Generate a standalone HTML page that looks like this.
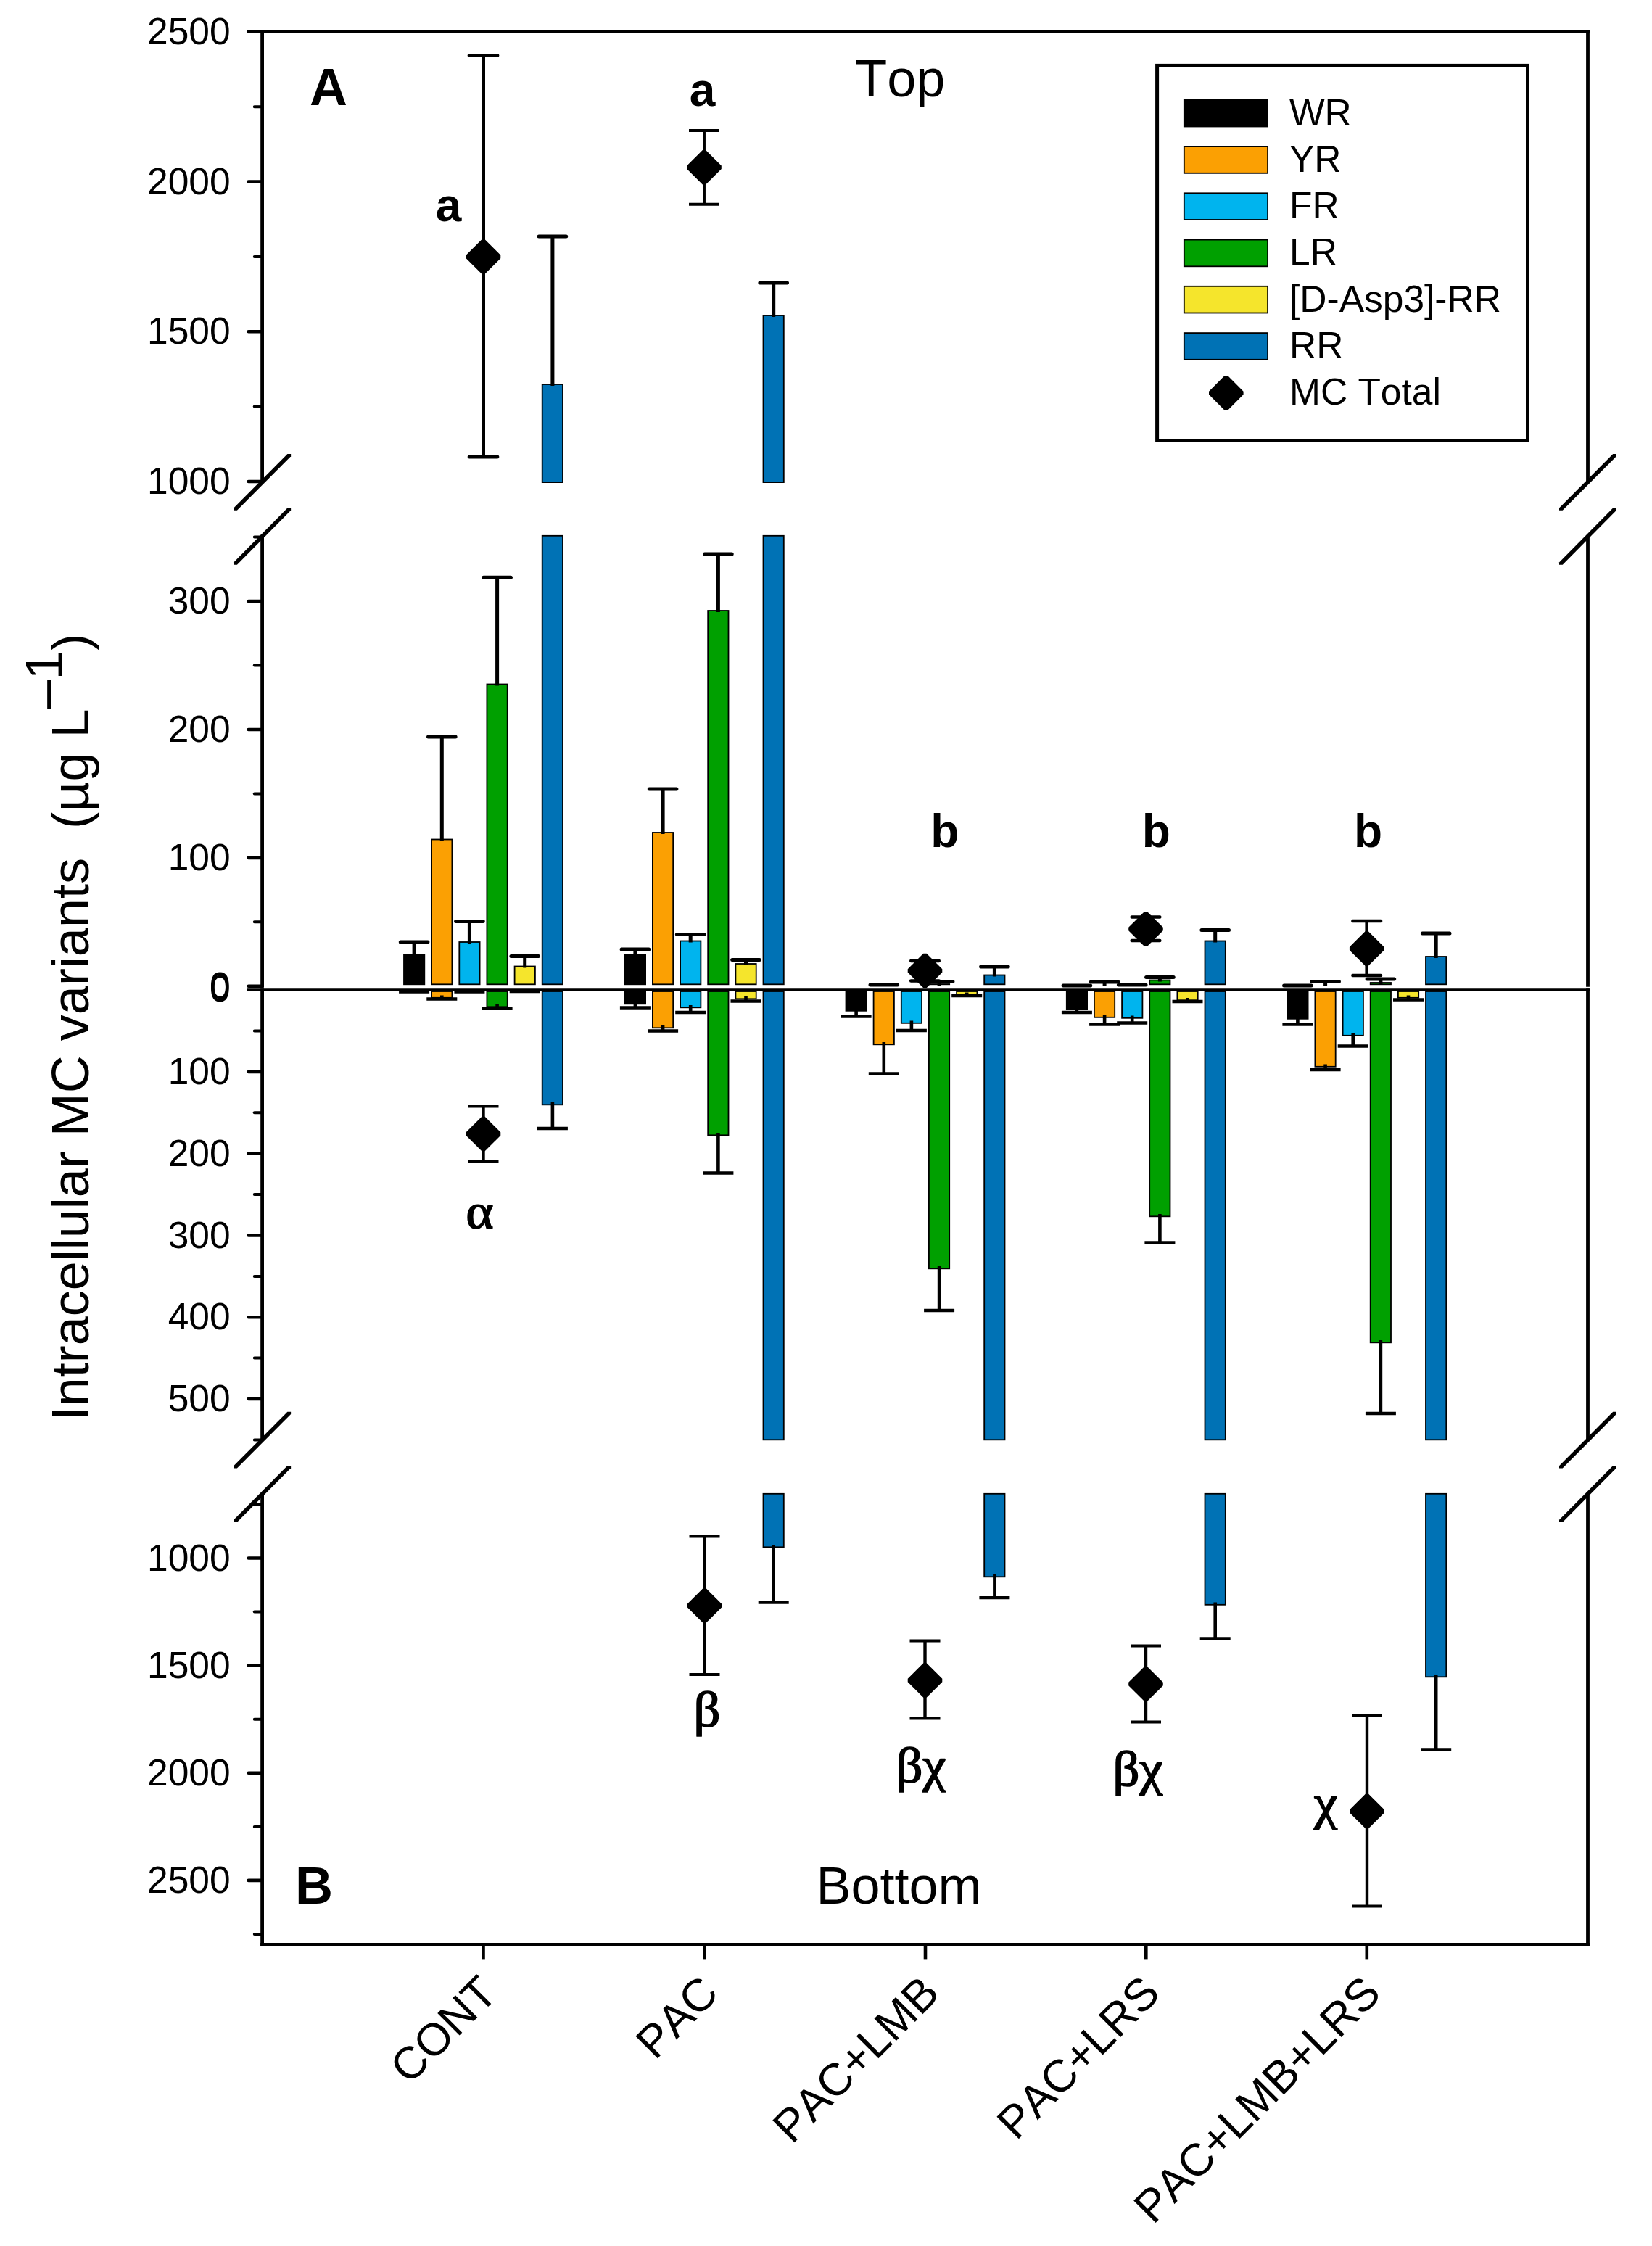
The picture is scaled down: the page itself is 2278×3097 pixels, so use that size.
<!DOCTYPE html>
<html lang="en"><head><meta charset="utf-8"><title>Intracellular MC variants</title>
<style>html,body{margin:0;padding:0;background:#fff}svg{display:block}text{font-kerning:none;font-variant-ligatures:none}</style></head><body>
<svg width="2278" height="3097" viewBox="0 0 2278 3097">
<rect x="0" y="0" width="2278" height="3097" fill="#fff"/>
<g id="bars">
<rect x="557.0" y="1316.5" width="28.3" height="40.8" fill="#000000" stroke="#000" stroke-width="1.8"/>
<line x1="571.1" y1="1318.5" x2="571.1" y2="1299.0" stroke="#000" stroke-width="5.0" stroke-linecap="butt"/>
<line x1="552.3" y1="1299.0" x2="589.9" y2="1299.0" stroke="#000" stroke-width="5.0" stroke-linecap="round"/>
<line x1="571.1" y1="1367.0" x2="571.1" y2="1367.6" stroke="#000" stroke-width="4.6" stroke-linecap="butt"/>
<line x1="550.1" y1="1367.6" x2="592.1" y2="1367.6" stroke="#000" stroke-width="4.3" stroke-linecap="butt"/>
<rect x="595.1" y="1157.5" width="28.3" height="199.8" fill="#FBA003" stroke="#000" stroke-width="1.8"/>
<line x1="609.3" y1="1159.5" x2="609.3" y2="1016.0" stroke="#000" stroke-width="5.0" stroke-linecap="butt"/>
<line x1="590.5" y1="1016.0" x2="628.1" y2="1016.0" stroke="#000" stroke-width="5.0" stroke-linecap="round"/>
<rect x="595.1" y="1367.0" width="28.3" height="8.8" fill="#FBA003" stroke="#000" stroke-width="1.8"/>
<line x1="609.3" y1="1372.5" x2="609.3" y2="1377.5" stroke="#000" stroke-width="4.6" stroke-linecap="butt"/>
<line x1="588.3" y1="1377.5" x2="630.3" y2="1377.5" stroke="#000" stroke-width="4.3" stroke-linecap="butt"/>
<rect x="633.3" y="1299.0" width="28.3" height="58.3" fill="#00B4EE" stroke="#000" stroke-width="1.8"/>
<line x1="647.4" y1="1301.0" x2="647.4" y2="1270.4" stroke="#000" stroke-width="5.0" stroke-linecap="butt"/>
<line x1="628.6" y1="1270.4" x2="666.2" y2="1270.4" stroke="#000" stroke-width="5.0" stroke-linecap="round"/>
<line x1="647.4" y1="1367.0" x2="647.4" y2="1367.6" stroke="#000" stroke-width="4.6" stroke-linecap="butt"/>
<line x1="626.4" y1="1367.6" x2="668.4" y2="1367.6" stroke="#000" stroke-width="4.3" stroke-linecap="butt"/>
<rect x="671.4" y="943.5" width="28.3" height="413.8" fill="#00A000" stroke="#000" stroke-width="1.8"/>
<line x1="685.6" y1="945.5" x2="685.6" y2="796.3" stroke="#000" stroke-width="5.0" stroke-linecap="butt"/>
<line x1="666.8" y1="796.3" x2="704.4" y2="796.3" stroke="#000" stroke-width="5.0" stroke-linecap="round"/>
<rect x="671.4" y="1367.0" width="28.3" height="21.3" fill="#00A000" stroke="#000" stroke-width="1.8"/>
<line x1="685.6" y1="1385.0" x2="685.6" y2="1390.5" stroke="#000" stroke-width="4.6" stroke-linecap="butt"/>
<line x1="664.6" y1="1390.5" x2="706.6" y2="1390.5" stroke="#000" stroke-width="4.3" stroke-linecap="butt"/>
<rect x="709.6" y="1332.5" width="28.3" height="24.8" fill="#F5E52C" stroke="#000" stroke-width="1.8"/>
<line x1="723.7" y1="1334.5" x2="723.7" y2="1318.5" stroke="#000" stroke-width="5.0" stroke-linecap="butt"/>
<line x1="704.9" y1="1318.5" x2="742.5" y2="1318.5" stroke="#000" stroke-width="5.0" stroke-linecap="round"/>
<line x1="723.7" y1="1367.0" x2="723.7" y2="1367.2" stroke="#000" stroke-width="4.6" stroke-linecap="butt"/>
<line x1="702.7" y1="1367.2" x2="744.7" y2="1367.2" stroke="#000" stroke-width="4.3" stroke-linecap="butt"/>
<rect x="747.7" y="738.8" width="28.3" height="618.5" fill="#0072B5" stroke="#000" stroke-width="1.8"/>
<rect x="747.7" y="530.0" width="28.3" height="135.1" fill="#0072B5" stroke="#000" stroke-width="1.8"/>
<line x1="761.9" y1="532.0" x2="761.9" y2="326.0" stroke="#000" stroke-width="5.0" stroke-linecap="butt"/>
<line x1="743.1" y1="326.0" x2="780.7" y2="326.0" stroke="#000" stroke-width="5.0" stroke-linecap="round"/>
<rect x="747.7" y="1367.0" width="28.3" height="156.3" fill="#0072B5" stroke="#000" stroke-width="1.8"/>
<line x1="761.9" y1="1520.0" x2="761.9" y2="1556.0" stroke="#000" stroke-width="4.6" stroke-linecap="butt"/>
<line x1="740.9" y1="1556.0" x2="782.9" y2="1556.0" stroke="#000" stroke-width="4.3" stroke-linecap="butt"/>
<rect x="861.8" y="1316.5" width="28.3" height="40.8" fill="#000000" stroke="#000" stroke-width="1.8"/>
<line x1="875.9" y1="1318.5" x2="875.9" y2="1309.0" stroke="#000" stroke-width="5.0" stroke-linecap="butt"/>
<line x1="857.1" y1="1309.0" x2="894.7" y2="1309.0" stroke="#000" stroke-width="5.0" stroke-linecap="round"/>
<rect x="861.8" y="1367.0" width="28.3" height="17.3" fill="#000000" stroke="#000" stroke-width="1.8"/>
<line x1="875.9" y1="1381.0" x2="875.9" y2="1389.5" stroke="#000" stroke-width="4.6" stroke-linecap="butt"/>
<line x1="854.9" y1="1389.5" x2="896.9" y2="1389.5" stroke="#000" stroke-width="4.3" stroke-linecap="butt"/>
<rect x="899.9" y="1148.0" width="28.3" height="209.3" fill="#FBA003" stroke="#000" stroke-width="1.8"/>
<line x1="914.1" y1="1150.0" x2="914.1" y2="1088.0" stroke="#000" stroke-width="5.0" stroke-linecap="butt"/>
<line x1="895.3" y1="1088.0" x2="932.9" y2="1088.0" stroke="#000" stroke-width="5.0" stroke-linecap="round"/>
<rect x="899.9" y="1367.0" width="28.3" height="50.3" fill="#FBA003" stroke="#000" stroke-width="1.8"/>
<line x1="914.1" y1="1414.0" x2="914.1" y2="1421.5" stroke="#000" stroke-width="4.6" stroke-linecap="butt"/>
<line x1="893.1" y1="1421.5" x2="935.1" y2="1421.5" stroke="#000" stroke-width="4.3" stroke-linecap="butt"/>
<rect x="938.1" y="1297.5" width="28.3" height="59.8" fill="#00B4EE" stroke="#000" stroke-width="1.8"/>
<line x1="952.2" y1="1299.5" x2="952.2" y2="1288.5" stroke="#000" stroke-width="5.0" stroke-linecap="butt"/>
<line x1="933.4" y1="1288.5" x2="971.0" y2="1288.5" stroke="#000" stroke-width="5.0" stroke-linecap="round"/>
<rect x="938.1" y="1367.0" width="28.3" height="22.3" fill="#00B4EE" stroke="#000" stroke-width="1.8"/>
<line x1="952.2" y1="1386.0" x2="952.2" y2="1396.0" stroke="#000" stroke-width="4.6" stroke-linecap="butt"/>
<line x1="931.2" y1="1396.0" x2="973.2" y2="1396.0" stroke="#000" stroke-width="4.3" stroke-linecap="butt"/>
<rect x="976.2" y="842.0" width="28.3" height="515.3" fill="#00A000" stroke="#000" stroke-width="1.8"/>
<line x1="990.4" y1="844.0" x2="990.4" y2="764.0" stroke="#000" stroke-width="5.0" stroke-linecap="butt"/>
<line x1="971.6" y1="764.0" x2="1009.2" y2="764.0" stroke="#000" stroke-width="5.0" stroke-linecap="round"/>
<rect x="976.2" y="1367.0" width="28.3" height="198.3" fill="#00A000" stroke="#000" stroke-width="1.8"/>
<line x1="990.4" y1="1562.0" x2="990.4" y2="1617.5" stroke="#000" stroke-width="4.6" stroke-linecap="butt"/>
<line x1="969.4" y1="1617.5" x2="1011.4" y2="1617.5" stroke="#000" stroke-width="4.3" stroke-linecap="butt"/>
<rect x="1014.4" y="1329.0" width="28.3" height="28.3" fill="#F5E52C" stroke="#000" stroke-width="1.8"/>
<line x1="1028.5" y1="1331.0" x2="1028.5" y2="1323.5" stroke="#000" stroke-width="5.0" stroke-linecap="butt"/>
<line x1="1009.7" y1="1323.5" x2="1047.3" y2="1323.5" stroke="#000" stroke-width="5.0" stroke-linecap="round"/>
<rect x="1014.4" y="1367.0" width="28.3" height="10.3" fill="#F5E52C" stroke="#000" stroke-width="1.8"/>
<line x1="1028.5" y1="1374.0" x2="1028.5" y2="1380.5" stroke="#000" stroke-width="4.6" stroke-linecap="butt"/>
<line x1="1007.5" y1="1380.5" x2="1049.5" y2="1380.5" stroke="#000" stroke-width="4.3" stroke-linecap="butt"/>
<rect x="1052.5" y="738.8" width="28.3" height="618.5" fill="#0072B5" stroke="#000" stroke-width="1.8"/>
<rect x="1052.5" y="435.0" width="28.3" height="230.1" fill="#0072B5" stroke="#000" stroke-width="1.8"/>
<line x1="1066.7" y1="437.0" x2="1066.7" y2="390.0" stroke="#000" stroke-width="5.0" stroke-linecap="butt"/>
<line x1="1047.9" y1="390.0" x2="1085.5" y2="390.0" stroke="#000" stroke-width="5.0" stroke-linecap="round"/>
<rect x="1052.5" y="1367.0" width="28.3" height="618.3" fill="#0072B5" stroke="#000" stroke-width="1.8"/>
<rect x="1052.5" y="2059.8" width="28.3" height="73.5" fill="#0072B5" stroke="#000" stroke-width="1.8"/>
<line x1="1066.7" y1="2130.0" x2="1066.7" y2="2209.6" stroke="#000" stroke-width="4.6" stroke-linecap="butt"/>
<line x1="1045.7" y1="2209.6" x2="1087.7" y2="2209.6" stroke="#000" stroke-width="4.3" stroke-linecap="butt"/>
<rect x="1166.5" y="1367.0" width="28.3" height="26.8" fill="#000000" stroke="#000" stroke-width="1.8"/>
<line x1="1180.6" y1="1390.5" x2="1180.6" y2="1401.5" stroke="#000" stroke-width="4.6" stroke-linecap="butt"/>
<line x1="1159.6" y1="1401.5" x2="1201.6" y2="1401.5" stroke="#000" stroke-width="4.3" stroke-linecap="butt"/>
<line x1="1218.8" y1="1357.3" x2="1218.8" y2="1358.0" stroke="#000" stroke-width="5.0" stroke-linecap="butt"/>
<line x1="1200.0" y1="1358.0" x2="1237.6" y2="1358.0" stroke="#000" stroke-width="5.0" stroke-linecap="round"/>
<rect x="1204.6" y="1367.0" width="28.3" height="73.3" fill="#FBA003" stroke="#000" stroke-width="1.8"/>
<line x1="1218.8" y1="1437.0" x2="1218.8" y2="1480.5" stroke="#000" stroke-width="4.6" stroke-linecap="butt"/>
<line x1="1197.8" y1="1480.5" x2="1239.8" y2="1480.5" stroke="#000" stroke-width="4.3" stroke-linecap="butt"/>
<rect x="1242.8" y="1367.0" width="28.3" height="43.8" fill="#00B4EE" stroke="#000" stroke-width="1.8"/>
<line x1="1256.9" y1="1407.5" x2="1256.9" y2="1421.0" stroke="#000" stroke-width="4.6" stroke-linecap="butt"/>
<line x1="1235.9" y1="1421.0" x2="1277.9" y2="1421.0" stroke="#000" stroke-width="4.3" stroke-linecap="butt"/>
<rect x="1280.9" y="1357.0" width="28.3" height="0.3" fill="#00A000" stroke="#000" stroke-width="1.8"/>
<line x1="1295.1" y1="1359.0" x2="1295.1" y2="1353.5" stroke="#000" stroke-width="5.0" stroke-linecap="butt"/>
<line x1="1276.3" y1="1353.5" x2="1313.9" y2="1353.5" stroke="#000" stroke-width="5.0" stroke-linecap="round"/>
<rect x="1280.9" y="1367.0" width="28.3" height="382.3" fill="#00A000" stroke="#000" stroke-width="1.8"/>
<line x1="1295.1" y1="1746.0" x2="1295.1" y2="1807.0" stroke="#000" stroke-width="4.6" stroke-linecap="butt"/>
<line x1="1274.1" y1="1807.0" x2="1316.1" y2="1807.0" stroke="#000" stroke-width="4.3" stroke-linecap="butt"/>
<rect x="1319.1" y="1367.0" width="28.3" height="4.8" fill="#F5E52C" stroke="#000" stroke-width="1.8"/>
<line x1="1333.2" y1="1368.5" x2="1333.2" y2="1373.0" stroke="#000" stroke-width="4.6" stroke-linecap="butt"/>
<line x1="1312.2" y1="1373.0" x2="1354.2" y2="1373.0" stroke="#000" stroke-width="4.3" stroke-linecap="butt"/>
<rect x="1357.2" y="1344.5" width="28.3" height="12.8" fill="#0072B5" stroke="#000" stroke-width="1.8"/>
<line x1="1371.4" y1="1346.5" x2="1371.4" y2="1333.0" stroke="#000" stroke-width="5.0" stroke-linecap="butt"/>
<line x1="1352.6" y1="1333.0" x2="1390.2" y2="1333.0" stroke="#000" stroke-width="5.0" stroke-linecap="round"/>
<rect x="1357.2" y="1367.0" width="28.3" height="618.3" fill="#0072B5" stroke="#000" stroke-width="1.8"/>
<rect x="1357.2" y="2059.8" width="28.3" height="114.5" fill="#0072B5" stroke="#000" stroke-width="1.8"/>
<line x1="1371.4" y1="2171.0" x2="1371.4" y2="2203.1" stroke="#000" stroke-width="4.6" stroke-linecap="butt"/>
<line x1="1350.4" y1="2203.1" x2="1392.4" y2="2203.1" stroke="#000" stroke-width="4.3" stroke-linecap="butt"/>
<line x1="1484.9" y1="1357.3" x2="1484.9" y2="1359.0" stroke="#000" stroke-width="5.0" stroke-linecap="butt"/>
<line x1="1466.1" y1="1359.0" x2="1503.7" y2="1359.0" stroke="#000" stroke-width="5.0" stroke-linecap="round"/>
<rect x="1470.8" y="1367.0" width="28.3" height="24.8" fill="#000000" stroke="#000" stroke-width="1.8"/>
<line x1="1484.9" y1="1388.5" x2="1484.9" y2="1396.0" stroke="#000" stroke-width="4.6" stroke-linecap="butt"/>
<line x1="1463.9" y1="1396.0" x2="1505.9" y2="1396.0" stroke="#000" stroke-width="4.3" stroke-linecap="butt"/>
<rect x="1508.9" y="1357.5" width="28.3" height="-0.2" fill="#FBA003" stroke="#000" stroke-width="1.8"/>
<line x1="1523.1" y1="1359.5" x2="1523.1" y2="1354.0" stroke="#000" stroke-width="5.0" stroke-linecap="butt"/>
<line x1="1504.3" y1="1354.0" x2="1541.9" y2="1354.0" stroke="#000" stroke-width="5.0" stroke-linecap="round"/>
<rect x="1508.9" y="1367.0" width="28.3" height="35.8" fill="#FBA003" stroke="#000" stroke-width="1.8"/>
<line x1="1523.1" y1="1399.5" x2="1523.1" y2="1412.5" stroke="#000" stroke-width="4.6" stroke-linecap="butt"/>
<line x1="1502.1" y1="1412.5" x2="1544.1" y2="1412.5" stroke="#000" stroke-width="4.3" stroke-linecap="butt"/>
<line x1="1561.2" y1="1357.3" x2="1561.2" y2="1358.0" stroke="#000" stroke-width="5.0" stroke-linecap="butt"/>
<line x1="1542.4" y1="1358.0" x2="1580.0" y2="1358.0" stroke="#000" stroke-width="5.0" stroke-linecap="round"/>
<rect x="1547.1" y="1367.0" width="28.3" height="36.8" fill="#00B4EE" stroke="#000" stroke-width="1.8"/>
<line x1="1561.2" y1="1400.5" x2="1561.2" y2="1410.5" stroke="#000" stroke-width="4.6" stroke-linecap="butt"/>
<line x1="1540.2" y1="1410.5" x2="1582.2" y2="1410.5" stroke="#000" stroke-width="4.3" stroke-linecap="butt"/>
<rect x="1585.2" y="1351.5" width="28.3" height="5.8" fill="#00A000" stroke="#000" stroke-width="1.8"/>
<line x1="1599.4" y1="1353.5" x2="1599.4" y2="1347.5" stroke="#000" stroke-width="5.0" stroke-linecap="butt"/>
<line x1="1580.6" y1="1347.5" x2="1618.2" y2="1347.5" stroke="#000" stroke-width="5.0" stroke-linecap="round"/>
<rect x="1585.2" y="1367.0" width="28.3" height="310.3" fill="#00A000" stroke="#000" stroke-width="1.8"/>
<line x1="1599.4" y1="1674.0" x2="1599.4" y2="1713.5" stroke="#000" stroke-width="4.6" stroke-linecap="butt"/>
<line x1="1578.4" y1="1713.5" x2="1620.4" y2="1713.5" stroke="#000" stroke-width="4.3" stroke-linecap="butt"/>
<rect x="1623.4" y="1367.0" width="28.3" height="12.3" fill="#F5E52C" stroke="#000" stroke-width="1.8"/>
<line x1="1637.5" y1="1376.0" x2="1637.5" y2="1381.0" stroke="#000" stroke-width="4.6" stroke-linecap="butt"/>
<line x1="1616.5" y1="1381.0" x2="1658.5" y2="1381.0" stroke="#000" stroke-width="4.3" stroke-linecap="butt"/>
<rect x="1661.5" y="1297.5" width="28.3" height="59.8" fill="#0072B5" stroke="#000" stroke-width="1.8"/>
<line x1="1675.7" y1="1299.5" x2="1675.7" y2="1282.5" stroke="#000" stroke-width="5.0" stroke-linecap="butt"/>
<line x1="1656.9" y1="1282.5" x2="1694.5" y2="1282.5" stroke="#000" stroke-width="5.0" stroke-linecap="round"/>
<rect x="1661.5" y="1367.0" width="28.3" height="618.3" fill="#0072B5" stroke="#000" stroke-width="1.8"/>
<rect x="1661.5" y="2059.8" width="28.3" height="153.0" fill="#0072B5" stroke="#000" stroke-width="1.8"/>
<line x1="1675.7" y1="2209.5" x2="1675.7" y2="2259.5" stroke="#000" stroke-width="4.6" stroke-linecap="butt"/>
<line x1="1654.7" y1="2259.5" x2="1696.7" y2="2259.5" stroke="#000" stroke-width="4.3" stroke-linecap="butt"/>
<line x1="1789.4" y1="1357.3" x2="1789.4" y2="1359.0" stroke="#000" stroke-width="5.0" stroke-linecap="butt"/>
<line x1="1770.6" y1="1359.0" x2="1808.2" y2="1359.0" stroke="#000" stroke-width="5.0" stroke-linecap="round"/>
<rect x="1775.3" y="1367.0" width="28.3" height="37.8" fill="#000000" stroke="#000" stroke-width="1.8"/>
<line x1="1789.4" y1="1401.5" x2="1789.4" y2="1412.5" stroke="#000" stroke-width="4.6" stroke-linecap="butt"/>
<line x1="1768.4" y1="1412.5" x2="1810.4" y2="1412.5" stroke="#000" stroke-width="4.3" stroke-linecap="butt"/>
<rect x="1813.4" y="1357.5" width="28.3" height="-0.2" fill="#FBA003" stroke="#000" stroke-width="1.8"/>
<line x1="1827.6" y1="1359.5" x2="1827.6" y2="1353.5" stroke="#000" stroke-width="5.0" stroke-linecap="butt"/>
<line x1="1808.8" y1="1353.5" x2="1846.4" y2="1353.5" stroke="#000" stroke-width="5.0" stroke-linecap="round"/>
<rect x="1813.4" y="1367.0" width="28.3" height="103.8" fill="#FBA003" stroke="#000" stroke-width="1.8"/>
<line x1="1827.6" y1="1467.5" x2="1827.6" y2="1475.0" stroke="#000" stroke-width="4.6" stroke-linecap="butt"/>
<line x1="1806.6" y1="1475.0" x2="1848.6" y2="1475.0" stroke="#000" stroke-width="4.3" stroke-linecap="butt"/>
<rect x="1851.6" y="1367.0" width="28.3" height="60.8" fill="#00B4EE" stroke="#000" stroke-width="1.8"/>
<line x1="1865.7" y1="1424.5" x2="1865.7" y2="1442.5" stroke="#000" stroke-width="4.6" stroke-linecap="butt"/>
<line x1="1844.7" y1="1442.5" x2="1886.7" y2="1442.5" stroke="#000" stroke-width="4.3" stroke-linecap="butt"/>
<rect x="1889.7" y="1355.0" width="28.3" height="2.3" fill="#00A000" stroke="#000" stroke-width="1.8"/>
<line x1="1903.9" y1="1357.0" x2="1903.9" y2="1350.0" stroke="#000" stroke-width="5.0" stroke-linecap="butt"/>
<line x1="1885.1" y1="1350.0" x2="1922.7" y2="1350.0" stroke="#000" stroke-width="5.0" stroke-linecap="round"/>
<rect x="1889.7" y="1367.0" width="28.3" height="484.3" fill="#00A000" stroke="#000" stroke-width="1.8"/>
<line x1="1903.9" y1="1848.0" x2="1903.9" y2="1949.0" stroke="#000" stroke-width="4.6" stroke-linecap="butt"/>
<line x1="1882.9" y1="1949.0" x2="1924.9" y2="1949.0" stroke="#000" stroke-width="4.3" stroke-linecap="butt"/>
<rect x="1927.9" y="1367.0" width="28.3" height="8.8" fill="#F5E52C" stroke="#000" stroke-width="1.8"/>
<line x1="1942.0" y1="1372.5" x2="1942.0" y2="1378.5" stroke="#000" stroke-width="4.6" stroke-linecap="butt"/>
<line x1="1921.0" y1="1378.5" x2="1963.0" y2="1378.5" stroke="#000" stroke-width="4.3" stroke-linecap="butt"/>
<rect x="1966.0" y="1319.0" width="28.3" height="38.3" fill="#0072B5" stroke="#000" stroke-width="1.8"/>
<line x1="1980.2" y1="1321.0" x2="1980.2" y2="1287.0" stroke="#000" stroke-width="5.0" stroke-linecap="butt"/>
<line x1="1961.4" y1="1287.0" x2="1999.0" y2="1287.0" stroke="#000" stroke-width="5.0" stroke-linecap="round"/>
<rect x="1966.0" y="1367.0" width="28.3" height="618.3" fill="#0072B5" stroke="#000" stroke-width="1.8"/>
<rect x="1966.0" y="2059.8" width="28.3" height="252.5" fill="#0072B5" stroke="#000" stroke-width="1.8"/>
<line x1="1980.2" y1="2309.0" x2="1980.2" y2="2412.5" stroke="#000" stroke-width="4.6" stroke-linecap="butt"/>
<line x1="1959.2" y1="2412.5" x2="2001.2" y2="2412.5" stroke="#000" stroke-width="4.3" stroke-linecap="butt"/>
</g>
<g id="totals">
<line x1="666.5" y1="76.5" x2="666.5" y2="630.0" stroke="#000" stroke-width="5.0" stroke-linecap="butt"/>
<line x1="647.2" y1="76.5" x2="685.8" y2="76.5" stroke="#000" stroke-width="5.0" stroke-linecap="round"/>
<line x1="647.2" y1="630.0" x2="685.8" y2="630.0" stroke="#000" stroke-width="5.0" stroke-linecap="round"/>
<polygon points="666.5,332.4 688.1,354.0 666.5,375.6 644.9,354.0" fill="#000" stroke="#000" stroke-width="6.2" stroke-linejoin="bevel"/>
<line x1="971.0" y1="180.0" x2="971.0" y2="281.7" stroke="#000" stroke-width="3.9" stroke-linecap="butt"/>
<line x1="950.0" y1="180.0" x2="992.0" y2="180.0" stroke="#000" stroke-width="4.0" stroke-linecap="butt"/>
<line x1="950.0" y1="281.7" x2="992.0" y2="281.7" stroke="#000" stroke-width="4.0" stroke-linecap="butt"/>
<polygon points="971.0,209.2 992.6,230.8 971.0,252.4 949.4,230.8" fill="#000" stroke="#000" stroke-width="6.2" stroke-linejoin="bevel"/>
<line x1="1275.5" y1="1325.0" x2="1275.5" y2="1352.5" stroke="#000" stroke-width="4.6" stroke-linecap="butt"/>
<line x1="1256.2" y1="1325.0" x2="1294.8" y2="1325.0" stroke="#000" stroke-width="4.6" stroke-linecap="round"/>
<line x1="1256.2" y1="1352.5" x2="1294.8" y2="1352.5" stroke="#000" stroke-width="4.6" stroke-linecap="round"/>
<polygon points="1275.5,1316.9 1297.1,1338.5 1275.5,1360.1 1253.9,1338.5" fill="#000" stroke="#000" stroke-width="6.2" stroke-linejoin="bevel"/>
<line x1="1580.0" y1="1264.5" x2="1580.0" y2="1297.0" stroke="#000" stroke-width="4.6" stroke-linecap="butt"/>
<line x1="1560.7" y1="1264.5" x2="1599.3" y2="1264.5" stroke="#000" stroke-width="4.6" stroke-linecap="round"/>
<line x1="1560.7" y1="1297.0" x2="1599.3" y2="1297.0" stroke="#000" stroke-width="4.6" stroke-linecap="round"/>
<polygon points="1580.0,1259.4 1601.6,1281.0 1580.0,1302.6 1558.4,1281.0" fill="#000" stroke="#000" stroke-width="6.2" stroke-linejoin="bevel"/>
<line x1="1884.7" y1="1270.0" x2="1884.7" y2="1345.0" stroke="#000" stroke-width="4.6" stroke-linecap="butt"/>
<line x1="1865.4" y1="1270.0" x2="1904.0" y2="1270.0" stroke="#000" stroke-width="4.6" stroke-linecap="round"/>
<line x1="1865.4" y1="1345.0" x2="1904.0" y2="1345.0" stroke="#000" stroke-width="4.6" stroke-linecap="round"/>
<polygon points="1884.7,1286.4 1906.3,1308.0 1884.7,1329.6 1863.1,1308.0" fill="#000" stroke="#000" stroke-width="6.2" stroke-linejoin="bevel"/>
<line x1="666.5" y1="1525.5" x2="666.5" y2="1601.0" stroke="#000" stroke-width="4.4" stroke-linecap="butt"/>
<line x1="645.5" y1="1525.5" x2="687.5" y2="1525.5" stroke="#000" stroke-width="4.0" stroke-linecap="butt"/>
<line x1="645.5" y1="1601.0" x2="687.5" y2="1601.0" stroke="#000" stroke-width="4.0" stroke-linecap="butt"/>
<polygon points="666.5,1541.9 688.1,1563.5 666.5,1585.1 644.9,1563.5" fill="#000" stroke="#000" stroke-width="6.2" stroke-linejoin="bevel"/>
<line x1="971.5" y1="2118.5" x2="971.5" y2="2309.0" stroke="#000" stroke-width="4.4" stroke-linecap="butt"/>
<line x1="950.5" y1="2118.5" x2="992.5" y2="2118.5" stroke="#000" stroke-width="4.0" stroke-linecap="butt"/>
<line x1="950.5" y1="2309.0" x2="992.5" y2="2309.0" stroke="#000" stroke-width="4.0" stroke-linecap="butt"/>
<polygon points="971.5,2192.4 993.1,2214.0 971.5,2235.6 949.9,2214.0" fill="#000" stroke="#000" stroke-width="6.2" stroke-linejoin="bevel"/>
<line x1="1275.5" y1="2262.5" x2="1275.5" y2="2369.5" stroke="#000" stroke-width="4.4" stroke-linecap="butt"/>
<line x1="1254.5" y1="2262.5" x2="1296.5" y2="2262.5" stroke="#000" stroke-width="4.0" stroke-linecap="butt"/>
<line x1="1254.5" y1="2369.5" x2="1296.5" y2="2369.5" stroke="#000" stroke-width="4.0" stroke-linecap="butt"/>
<polygon points="1275.5,2295.4 1297.1,2317.0 1275.5,2338.6 1253.9,2317.0" fill="#000" stroke="#000" stroke-width="6.2" stroke-linejoin="bevel"/>
<line x1="1580.0" y1="2269.5" x2="1580.0" y2="2374.5" stroke="#000" stroke-width="4.4" stroke-linecap="butt"/>
<line x1="1559.0" y1="2269.5" x2="1601.0" y2="2269.5" stroke="#000" stroke-width="4.0" stroke-linecap="butt"/>
<line x1="1559.0" y1="2374.5" x2="1601.0" y2="2374.5" stroke="#000" stroke-width="4.0" stroke-linecap="butt"/>
<polygon points="1580.0,2300.4 1601.6,2322.0 1580.0,2343.6 1558.4,2322.0" fill="#000" stroke="#000" stroke-width="6.2" stroke-linejoin="bevel"/>
<line x1="1885.0" y1="2366.0" x2="1885.0" y2="2628.5" stroke="#000" stroke-width="4.4" stroke-linecap="butt"/>
<line x1="1864.0" y1="2366.0" x2="1906.0" y2="2366.0" stroke="#000" stroke-width="4.0" stroke-linecap="butt"/>
<line x1="1864.0" y1="2628.5" x2="1906.0" y2="2628.5" stroke="#000" stroke-width="4.0" stroke-linecap="butt"/>
<polygon points="1885.0,2475.9 1906.6,2497.5 1885.0,2519.1 1863.4,2497.5" fill="#000" stroke="#000" stroke-width="6.2" stroke-linejoin="bevel"/>
</g>
<g id="axes">
<line x1="340.5" y1="43.9" x2="2191.9" y2="43.9" stroke="#000" stroke-width="4.2" stroke-linecap="butt"/>
<line x1="361.6" y1="41.7" x2="361.6" y2="663.8" stroke="#000" stroke-width="4.8" stroke-linecap="butt"/>
<line x1="361.6" y1="737.6" x2="361.6" y2="1361.8" stroke="#000" stroke-width="4.8" stroke-linecap="butt"/>
<line x1="361.6" y1="1363.2" x2="361.6" y2="1985.5" stroke="#000" stroke-width="4.8" stroke-linecap="butt"/>
<line x1="361.6" y1="2059.8" x2="361.6" y2="2683.2" stroke="#000" stroke-width="4.8" stroke-linecap="butt"/>
<line x1="2189.5" y1="41.7" x2="2189.5" y2="664.8" stroke="#000" stroke-width="4.8" stroke-linecap="butt"/>
<line x1="2189.5" y1="738.6" x2="2189.5" y2="1360.8" stroke="#000" stroke-width="4.8" stroke-linecap="butt"/>
<line x1="2189.5" y1="1363.2" x2="2189.5" y2="1985.5" stroke="#000" stroke-width="4.8" stroke-linecap="butt"/>
<line x1="2189.5" y1="2059.8" x2="2189.5" y2="2683.2" stroke="#000" stroke-width="4.8" stroke-linecap="butt"/>
<line x1="359.2" y1="2681.0" x2="2191.9" y2="2681.0" stroke="#000" stroke-width="4.0" stroke-linecap="butt"/>
<line x1="341.0" y1="1365.2" x2="2191.9" y2="1365.2" stroke="#000" stroke-width="3.8" stroke-linecap="butt"/>
<polygon fill="#000" points="322.2,700.5 396.4,626.0 401.1,626.0 401.1,629.3 326.9,703.8 322.2,703.8"/>
<polygon fill="#000" points="322.2,775.5 396.4,700.4 401.1,700.4 401.1,703.7 326.9,778.8 322.2,778.8"/>
<polygon fill="#000" points="322.2,2021.2 396.4,1946.7 401.1,1946.7 401.1,1950.0 326.9,2024.5 322.2,2024.5"/>
<polygon fill="#000" points="322.2,2095.7 396.4,2021.0 401.1,2021.0 401.1,2024.3 326.9,2099.0 322.2,2099.0"/>
<polygon fill="#000" points="2150.0,700.5 2224.2,626.0 2228.9,626.0 2228.9,629.3 2154.7,703.8 2150.0,703.8"/>
<polygon fill="#000" points="2150.0,775.5 2224.2,700.4 2228.9,700.4 2228.9,703.7 2154.7,778.8 2150.0,778.8"/>
<polygon fill="#000" points="2150.0,2021.2 2224.2,1946.7 2228.9,1946.7 2228.9,1950.0 2154.7,2024.5 2150.0,2024.5"/>
<polygon fill="#000" points="2150.0,2095.7 2224.2,2021.0 2228.9,2021.0 2228.9,2024.3 2154.7,2099.0 2150.0,2099.0"/>
<line x1="342.7" y1="250.6" x2="361.6" y2="250.6" stroke="#000" stroke-width="4.6" stroke-linecap="round"/>
<text x="317.6" y="267.6" font-family='"Liberation Sans", Arial, Helvetica, sans-serif' font-size="51.5" font-weight="normal" text-anchor="end" >2000</text>
<line x1="342.7" y1="457.3" x2="361.6" y2="457.3" stroke="#000" stroke-width="4.6" stroke-linecap="round"/>
<text x="317.6" y="474.3" font-family='"Liberation Sans", Arial, Helvetica, sans-serif' font-size="51.5" font-weight="normal" text-anchor="end" >1500</text>
<line x1="342.7" y1="664.0" x2="361.6" y2="664.0" stroke="#000" stroke-width="4.6" stroke-linecap="round"/>
<text x="317.6" y="681.0" font-family='"Liberation Sans", Arial, Helvetica, sans-serif' font-size="51.5" font-weight="normal" text-anchor="end" >1000</text>
<text x="317.6" y="60.9" font-family='"Liberation Sans", Arial, Helvetica, sans-serif' font-size="51.5" font-weight="normal" text-anchor="end" >2500</text>
<line x1="350.8" y1="147.2" x2="361.6" y2="147.2" stroke="#000" stroke-width="4.0" stroke-linecap="round"/>
<line x1="350.8" y1="353.9" x2="361.6" y2="353.9" stroke="#000" stroke-width="4.0" stroke-linecap="round"/>
<line x1="350.8" y1="560.6" x2="361.6" y2="560.6" stroke="#000" stroke-width="4.0" stroke-linecap="round"/>
<line x1="342.7" y1="829.1" x2="361.6" y2="829.1" stroke="#000" stroke-width="4.6" stroke-linecap="round"/>
<text x="317.6" y="846.1" font-family='"Liberation Sans", Arial, Helvetica, sans-serif' font-size="51.5" font-weight="normal" text-anchor="end" >300</text>
<line x1="342.7" y1="1006.0" x2="361.6" y2="1006.0" stroke="#000" stroke-width="4.6" stroke-linecap="round"/>
<text x="317.6" y="1023.0" font-family='"Liberation Sans", Arial, Helvetica, sans-serif' font-size="51.5" font-weight="normal" text-anchor="end" >200</text>
<line x1="342.7" y1="1182.9" x2="361.6" y2="1182.9" stroke="#000" stroke-width="4.6" stroke-linecap="round"/>
<text x="317.6" y="1199.9" font-family='"Liberation Sans", Arial, Helvetica, sans-serif' font-size="51.5" font-weight="normal" text-anchor="end" >100</text>
<line x1="342.7" y1="1359.8" x2="361.6" y2="1359.8" stroke="#000" stroke-width="4.6" stroke-linecap="round"/>
<text x="317.6" y="1376.8" font-family='"Liberation Sans", Arial, Helvetica, sans-serif' font-size="51.5" font-weight="normal" text-anchor="end" >0</text>
<line x1="350.8" y1="740.6" x2="361.6" y2="740.6" stroke="#000" stroke-width="4.0" stroke-linecap="round"/>
<line x1="350.8" y1="917.5" x2="361.6" y2="917.5" stroke="#000" stroke-width="4.0" stroke-linecap="round"/>
<line x1="350.8" y1="1094.5" x2="361.6" y2="1094.5" stroke="#000" stroke-width="4.0" stroke-linecap="round"/>
<line x1="350.8" y1="1271.3" x2="361.6" y2="1271.3" stroke="#000" stroke-width="4.0" stroke-linecap="round"/>
<line x1="342.7" y1="1478.0" x2="361.6" y2="1478.0" stroke="#000" stroke-width="4.6" stroke-linecap="round"/>
<text x="317.6" y="1495.0" font-family='"Liberation Sans", Arial, Helvetica, sans-serif' font-size="51.5" font-weight="normal" text-anchor="end" >100</text>
<line x1="342.7" y1="1590.7" x2="361.6" y2="1590.7" stroke="#000" stroke-width="4.6" stroke-linecap="round"/>
<text x="317.6" y="1607.7" font-family='"Liberation Sans", Arial, Helvetica, sans-serif' font-size="51.5" font-weight="normal" text-anchor="end" >200</text>
<line x1="342.7" y1="1703.5" x2="361.6" y2="1703.5" stroke="#000" stroke-width="4.6" stroke-linecap="round"/>
<text x="317.6" y="1720.5" font-family='"Liberation Sans", Arial, Helvetica, sans-serif' font-size="51.5" font-weight="normal" text-anchor="end" >300</text>
<line x1="342.7" y1="1816.2" x2="361.6" y2="1816.2" stroke="#000" stroke-width="4.6" stroke-linecap="round"/>
<text x="317.6" y="1833.2" font-family='"Liberation Sans", Arial, Helvetica, sans-serif' font-size="51.5" font-weight="normal" text-anchor="end" >400</text>
<line x1="342.7" y1="1929.0" x2="361.6" y2="1929.0" stroke="#000" stroke-width="4.6" stroke-linecap="round"/>
<text x="317.6" y="1946.0" font-family='"Liberation Sans", Arial, Helvetica, sans-serif' font-size="51.5" font-weight="normal" text-anchor="end" >500</text>
<text x="317.6" y="1381.2" font-family='"Liberation Sans", Arial, Helvetica, sans-serif' font-size="51.5" font-weight="normal" text-anchor="end" >0</text>
<line x1="350.8" y1="1421.6" x2="361.6" y2="1421.6" stroke="#000" stroke-width="4.0" stroke-linecap="round"/>
<line x1="350.8" y1="1534.3" x2="361.6" y2="1534.3" stroke="#000" stroke-width="4.0" stroke-linecap="round"/>
<line x1="350.8" y1="1647.1" x2="361.6" y2="1647.1" stroke="#000" stroke-width="4.0" stroke-linecap="round"/>
<line x1="350.8" y1="1759.9" x2="361.6" y2="1759.9" stroke="#000" stroke-width="4.0" stroke-linecap="round"/>
<line x1="350.8" y1="1872.6" x2="361.6" y2="1872.6" stroke="#000" stroke-width="4.0" stroke-linecap="round"/>
<line x1="350.8" y1="1985.4" x2="361.6" y2="1985.4" stroke="#000" stroke-width="4.0" stroke-linecap="round"/>
<line x1="342.7" y1="2148.5" x2="361.6" y2="2148.5" stroke="#000" stroke-width="4.6" stroke-linecap="round"/>
<text x="317.6" y="2165.5" font-family='"Liberation Sans", Arial, Helvetica, sans-serif' font-size="51.5" font-weight="normal" text-anchor="end" >1000</text>
<line x1="342.7" y1="2296.7" x2="361.6" y2="2296.7" stroke="#000" stroke-width="4.6" stroke-linecap="round"/>
<text x="317.6" y="2313.7" font-family='"Liberation Sans", Arial, Helvetica, sans-serif' font-size="51.5" font-weight="normal" text-anchor="end" >1500</text>
<line x1="342.7" y1="2444.8" x2="361.6" y2="2444.8" stroke="#000" stroke-width="4.6" stroke-linecap="round"/>
<text x="317.6" y="2461.8" font-family='"Liberation Sans", Arial, Helvetica, sans-serif' font-size="51.5" font-weight="normal" text-anchor="end" >2000</text>
<line x1="342.7" y1="2592.9" x2="361.6" y2="2592.9" stroke="#000" stroke-width="4.6" stroke-linecap="round"/>
<text x="317.6" y="2609.9" font-family='"Liberation Sans", Arial, Helvetica, sans-serif' font-size="51.5" font-weight="normal" text-anchor="end" >2500</text>
<line x1="350.8" y1="2074.4" x2="361.6" y2="2074.4" stroke="#000" stroke-width="4.0" stroke-linecap="round"/>
<line x1="350.8" y1="2222.6" x2="361.6" y2="2222.6" stroke="#000" stroke-width="4.0" stroke-linecap="round"/>
<line x1="350.8" y1="2370.7" x2="361.6" y2="2370.7" stroke="#000" stroke-width="4.0" stroke-linecap="round"/>
<line x1="350.8" y1="2518.9" x2="361.6" y2="2518.9" stroke="#000" stroke-width="4.0" stroke-linecap="round"/>
<line x1="350.8" y1="2667.0" x2="361.6" y2="2667.0" stroke="#000" stroke-width="4.0" stroke-linecap="round"/>
<line x1="666.5" y1="2681.0" x2="666.5" y2="2701.4" stroke="#000" stroke-width="4.6" stroke-linecap="butt"/>
<line x1="971.3" y1="2681.0" x2="971.3" y2="2701.4" stroke="#000" stroke-width="4.6" stroke-linecap="butt"/>
<line x1="1276.0" y1="2681.0" x2="1276.0" y2="2701.4" stroke="#000" stroke-width="4.6" stroke-linecap="butt"/>
<line x1="1580.3" y1="2681.0" x2="1580.3" y2="2701.4" stroke="#000" stroke-width="4.6" stroke-linecap="butt"/>
<line x1="1884.8" y1="2681.0" x2="1884.8" y2="2701.4" stroke="#000" stroke-width="4.6" stroke-linecap="butt"/>
</g>
<g id="labels" fill="#000">
<text x="688.6" y="2751.6" font-family='"Liberation Sans", Arial, Helvetica, sans-serif' font-size="62.5" font-weight="normal" text-anchor="end" letter-spacing="-0.3" transform="rotate(-45 688.6 2751.6)">CONT</text>
<text x="993.4" y="2751.6" font-family='"Liberation Sans", Arial, Helvetica, sans-serif' font-size="62.5" font-weight="normal" text-anchor="end" letter-spacing="-0.3" transform="rotate(-45 993.4 2751.6)">PAC</text>
<text x="1298.1" y="2751.6" font-family='"Liberation Sans", Arial, Helvetica, sans-serif' font-size="62.5" font-weight="normal" text-anchor="end" letter-spacing="-0.3" transform="rotate(-45 1298.1 2751.6)">PAC+LMB</text>
<text x="1602.4" y="2751.6" font-family='"Liberation Sans", Arial, Helvetica, sans-serif' font-size="62.5" font-weight="normal" text-anchor="end" letter-spacing="-0.3" transform="rotate(-45 1602.4 2751.6)">PAC+LRS</text>
<text x="1906.9" y="2751.6" font-family='"Liberation Sans", Arial, Helvetica, sans-serif' font-size="62.5" font-weight="normal" text-anchor="end" letter-spacing="-0.3" transform="rotate(-45 1906.9 2751.6)">PAC+LMB+LRS</text>
<text x="122.0" y="1959.3" font-family='"Liberation Sans", Arial, Helvetica, sans-serif' font-size="72" transform="rotate(-90 122.0 1959.3)" xml:space="preserve">Intracellular MC variants  (µg L<tspan dy="-36">–1</tspan><tspan dy="36">)</tspan></text>
<text x="427.0" y="144.9" font-family='"Liberation Sans", Arial, Helvetica, sans-serif' font-size="72" font-weight="bold" text-anchor="start" >A</text>
<text x="406.9" y="2625.0" font-family='"Liberation Sans", Arial, Helvetica, sans-serif' font-size="72" font-weight="bold" text-anchor="start" >B</text>
<text x="1241.3" y="133.4" font-family='"Liberation Sans", Arial, Helvetica, sans-serif' font-size="72" font-weight="normal" text-anchor="middle" >Top</text>
<text x="1239.5" y="2624.9" font-family='"Liberation Sans", Arial, Helvetica, sans-serif' font-size="72" font-weight="normal" text-anchor="middle" >Bottom</text>
<text x="618.5" y="305.3" font-family='"Liberation Sans", Arial, Helvetica, sans-serif' font-size="64" font-weight="bold" text-anchor="middle" >a</text>
<text x="968.5" y="146.0" font-family='"Liberation Sans", Arial, Helvetica, sans-serif' font-size="64" font-weight="bold" text-anchor="middle" >a</text>
<text x="1302.8" y="1168.4" font-family='"Liberation Sans", Arial, Helvetica, sans-serif' font-size="64" font-weight="bold" text-anchor="middle" >b</text>
<text x="1594.3" y="1168.4" font-family='"Liberation Sans", Arial, Helvetica, sans-serif' font-size="64" font-weight="bold" text-anchor="middle" >b</text>
<text x="1886.5" y="1168.4" font-family='"Liberation Sans", Arial, Helvetica, sans-serif' font-size="64" font-weight="bold" text-anchor="middle" >b</text>
<text transform="translate(661.5 1693.3) scale(1.076 1)" x="0" y="0" font-family='"Liberation Serif", "Times New Roman", serif' font-size="67.3" text-anchor="middle" stroke="#000" stroke-width="1.7" stroke-linejoin="round">α</text>
<text transform="translate(975.0 2380.0) scale(1.076 1)" x="0" y="0" font-family='"Liberation Serif", "Times New Roman", serif' font-size="67.3" text-anchor="middle" stroke="#000" stroke-width="1.7" stroke-linejoin="round">β</text>
<text transform="translate(1270.0 2456.5) scale(1.076 1)" x="0" y="0" font-family='"Liberation Serif", "Times New Roman", serif' font-size="67.3" text-anchor="middle" stroke="#000" stroke-width="1.7" stroke-linejoin="round">βχ</text>
<text transform="translate(1569.0 2461.5) scale(1.076 1)" x="0" y="0" font-family='"Liberation Serif", "Times New Roman", serif' font-size="67.3" text-anchor="middle" stroke="#000" stroke-width="1.7" stroke-linejoin="round">βχ</text>
<text transform="translate(1828.0 2509.0) scale(1.076 1)" x="0" y="0" font-family='"Liberation Serif", "Times New Roman", serif' font-size="67.3" text-anchor="middle" stroke="#000" stroke-width="1.7" stroke-linejoin="round">χ</text>
</g>
<g id="legend">
<rect x="1595.6" y="90.4" width="510.9" height="517.1" fill="#fff" stroke="#000" stroke-width="5"/>
<rect x="1632.8" y="137.8" width="115.3" height="36.7" fill="#000000" stroke="#000" stroke-width="1.8"/>
<text x="1778.0" y="172.5" font-family='"Liberation Sans", Arial, Helvetica, sans-serif' font-size="51.5" font-weight="normal" text-anchor="start" >WR</text>
<rect x="1632.8" y="202.1" width="115.3" height="36.7" fill="#FBA003" stroke="#000" stroke-width="1.8"/>
<text x="1778.0" y="236.8" font-family='"Liberation Sans", Arial, Helvetica, sans-serif' font-size="51.5" font-weight="normal" text-anchor="start" >YR</text>
<rect x="1632.8" y="266.3" width="115.3" height="36.7" fill="#00B4EE" stroke="#000" stroke-width="1.8"/>
<text x="1778.0" y="301.1" font-family='"Liberation Sans", Arial, Helvetica, sans-serif' font-size="51.5" font-weight="normal" text-anchor="start" >FR</text>
<rect x="1632.8" y="330.6" width="115.3" height="36.7" fill="#00A000" stroke="#000" stroke-width="1.8"/>
<text x="1778.0" y="365.4" font-family='"Liberation Sans", Arial, Helvetica, sans-serif' font-size="51.5" font-weight="normal" text-anchor="start" >LR</text>
<rect x="1632.8" y="394.8" width="115.3" height="36.7" fill="#F5E52C" stroke="#000" stroke-width="1.8"/>
<text x="1778.0" y="429.7" font-family='"Liberation Sans", Arial, Helvetica, sans-serif' font-size="51.5" font-weight="normal" text-anchor="start" >[D-Asp3]-RR</text>
<rect x="1632.8" y="459.1" width="115.3" height="36.7" fill="#0072B5" stroke="#000" stroke-width="1.8"/>
<text x="1778.0" y="494.0" font-family='"Liberation Sans", Arial, Helvetica, sans-serif' font-size="51.5" font-weight="normal" text-anchor="start" >RR</text>
<polygon points="1690.8,520.3 1712.4,541.9 1690.8,563.5 1669.2,541.9" fill="#000" stroke="#000" stroke-width="6.2" stroke-linejoin="bevel"/>
<text x="1778.0" y="558.3" font-family='"Liberation Sans", Arial, Helvetica, sans-serif' font-size="51.5" font-weight="normal" text-anchor="start" >MC Total</text>
</g>
</svg></body></html>
